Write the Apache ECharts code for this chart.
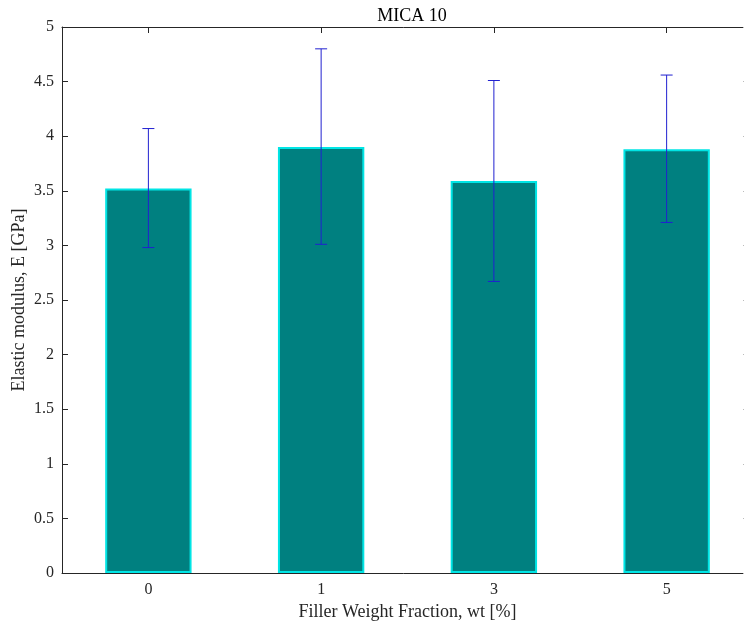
<!DOCTYPE html>
<html><head><meta charset="utf-8">
<script src="https://cdn.jsdelivr.net/npm/echarts@6/dist/echarts.min.js"></script>
<style>html,body{margin:0;padding:0;background:#fff}#c{width:744px;height:623px}</style>
</head><body><div id="c"></div>
<script>
var categories = ['0', '1', '3', '5'];
var modulus = [3.52, 3.90, 3.59, 3.88];
var errLow = [2.98, 3.01, 2.67, 3.21];
var errHigh = [4.07, 4.80, 4.51, 4.56];

var chart = echarts.init(document.getElementById('c'));
var font = 'Liberation Serif';
var axisColor = '#262626';
var errData = categories.map(function (c, i) { return [i, errLow[i], errHigh[i]]; });

chart.setOption({
  animation: false,
  title: { text: 'MICA 10', left: 407, top: 2, textAlign: 'center',
    textStyle: { fontFamily: font, fontSize: 18, fontWeight: 'normal', color: '#000' } },
  grid: { left: 62, width: 691, top: 27, height: 546, containLabel: false, outerBoundsMode: 'none' },
  xAxis: [{
    type: 'category', data: categories, boundaryGap: true,
    name: 'Filler Weight Fraction, wt [%]', nameLocation: 'middle', nameGap: 24,
    nameTextStyle: { fontFamily: font, fontSize: 18, color: axisColor, verticalAlign: 'top' },
    axisLine: { onZero: false, lineStyle: { color: axisColor, width: 1 } },
    axisTick: { inside: true, alignWithLabel: true, length: 6, lineStyle: { color: axisColor } },
    axisLabel: { fontFamily: font, fontSize: 16, color: axisColor, margin: 9 },
    splitLine: { show: false }
  }, {
    type: 'category', data: categories, position: 'top', boundaryGap: true,
    axisLine: { onZero: false, lineStyle: { color: axisColor, width: 1 } },
    axisTick: { show: true, inside: true, alignWithLabel: true, length: 6, lineStyle: { color: axisColor } },
    axisLabel: { show: false }
  }],
  yAxis: [{
    type: 'value', min: 0, max: 5, interval: 0.5,
    name: 'Elastic modulus, E [GPa]', nameLocation: 'middle', nameGap: 34, nameMoveOverlap: false,
    nameTextStyle: { fontFamily: font, fontSize: 18, color: axisColor },
    axisLine: { show: true, onZero: false, lineStyle: { color: axisColor, width: 1 } },
    axisTick: { show: true, inside: true, length: 6, lineStyle: { color: axisColor } },
    axisLabel: { fontFamily: font, fontSize: 16, color: axisColor, margin: 8 },
    splitLine: { show: false }
  }, {
    type: 'value', min: 0, max: 5, interval: 0.5, position: 'right',
    axisLine: { show: true, onZero: false, lineStyle: { color: axisColor, width: 1 } },
    axisTick: { show: true, inside: true, length: 10, lineStyle: { color: '#bbbbbb' } },
    axisLabel: { show: false },
    splitLine: { show: false }
  }],
  series: [{
    type: 'bar', data: modulus, barWidth: '50%',
    itemStyle: { color: '#008080', borderColor: '#00e5e5', borderWidth: 2 }
  }, {
    type: 'custom', data: errData, z: 10,
    renderItem: function (params, api) {
      var x = api.value(0);
      var lo = api.coord([x, api.value(1)]);
      var hi = api.coord([x, api.value(2)]);
      var hw = 6;
      var st = { stroke: '#2020d0', lineWidth: 1 };
      return { type: 'group', children: [
        { type: 'line', shape: { x1: lo[0], y1: lo[1], x2: hi[0], y2: hi[1] }, style: st },
        { type: 'line', shape: { x1: lo[0] - hw, y1: lo[1], x2: lo[0] + hw, y2: lo[1] }, style: st },
        { type: 'line', shape: { x1: hi[0] - hw, y1: hi[1], x2: hi[0] + hw, y2: hi[1] }, style: st }
      ] };
    }
  }]
});
</script></body></html>
